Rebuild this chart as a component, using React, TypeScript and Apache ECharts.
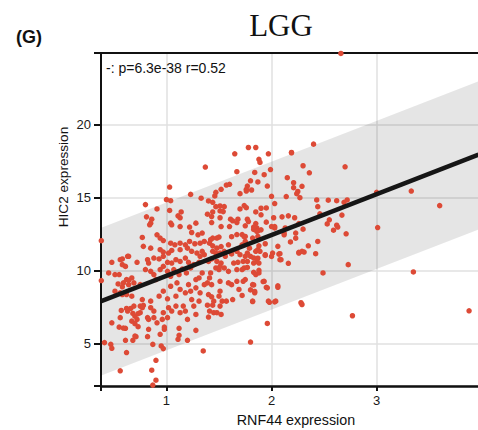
import React, { useEffect, useRef } from "react";
import * as echarts from "echarts";

// RNF44 expression (x), HIC2 expression (y)
const samples: number[][] = [
  [2.66, 24.85], [0.87, 2.14], [0.9, 2.48], [0.86, 3.16], [0.9, 3.84], [0.56, 3.12], [3.88, 7.23], [3.35, 9.89],
  [2.77, 6.89], [1.96, 6.36], [1.8, 5.09], [2.28, 7.78], [3.6, 14.43], [3.33, 15.43], [3.0, 15.34], [3.01, 12.93],
  [2.4, 18.64], [2.19, 18.05], [2.7, 17.09], [2.36, 16.68], [0.38, 12.03], [0.38, 9.3], [0.41, 5.05], [0.47, 4.93],
  [0.48, 4.66], [0.62, 4.37], [2.73, 10.39], [2.49, 9.82], [2.71, 12.5], [1.35, 4.48],
  [1.37, 17.07], [1.03, 15.7], [1.23, 15.2], [1.33, 14.94], [1.0, 14.84], [1.04, 14.77], [0.8, 14.5], [0.91, 14.2],
  [1.03, 14.1], [1.14, 14.0], [1.11, 13.73], [1.13, 13.6], [0.81, 13.66], [0.86, 13.5],
  [1.65, 17.98], [1.78, 18.41], [1.85, 18.41], [1.97, 17.98], [1.88, 17.6], [1.89, 17.39], [2.19, 18.07], [1.67, 16.75],
  [1.99, 16.9], [1.84, 16.7], [1.93, 16.55], [2.3, 17.16], [2.15, 16.34], [1.87, 16.05], [1.8, 16.13], [2.21, 16.0],
  [2.29, 15.75], [1.96, 15.77], [1.77, 15.77], [1.76, 15.55], [1.81, 15.5], [2.21, 15.66], [2.25, 15.4], [2.24, 15.25],
  [2.27, 14.97], [1.57, 15.84], [1.6, 15.89], [1.52, 15.55], [1.47, 15.34], [1.46, 15.09], [1.7, 15.25], [1.76, 15.43],
  [2.0, 15.07], [2.14, 15.05], [1.4, 14.75], [1.44, 14.66], [2.03, 14.57], [1.47, 14.36], [1.51, 14.41], [1.55, 14.36],
  [1.74, 14.43], [1.76, 14.29], [1.7, 14.2], [1.9, 14.25], [1.95, 14.27], [1.85, 14.0], [1.9, 13.8], [1.51, 14.07],
  [1.54, 14.02], [1.44, 14.0], [1.43, 13.68], [1.39, 13.84], [1.51, 13.6], [1.61, 13.5], [1.68, 13.5], [1.77, 13.5],
  [2.02, 13.6], [2.1, 13.66], [2.16, 13.73], [2.22, 13.6],
  [2.43, 14.82], [2.54, 14.8], [2.62, 14.77], [2.69, 14.66], [2.72, 14.82], [2.44, 14.36], [2.46, 13.87], [2.67, 13.78],
  [2.55, 13.46], [2.53, 13.18], [2.62, 13.09], [2.63, 12.96], [2.59, 12.75], [2.26, 13.2], [2.23, 12.2], [1.85, 13.2],
  [1.86, 12.9], [1.83, 12.8], [1.87, 12.7], [2.13, 12.9], [2.12, 12.55], [2.03, 12.9], [1.95, 13.3], [2.0, 13.0],
  [2.44, 11.98], [2.42, 11.14], [2.35, 11.68], [2.31, 11.25], [2.26, 11.18], [2.18, 11.94], [2.16, 10.48], [2.08, 10.73],
  [2.07, 11.11], [2.0, 10.95], [1.94, 11.02], [1.88, 10.0], [1.83, 9.86], [1.92, 9.23], [1.95, 8.84], [1.8, 8.66],
  [1.84, 8.55], [1.83, 9.0], [2.06, 8.94], [1.98, 7.81], [2.03, 7.84], [1.82, 7.86], [2.12, 12.43], [1.86, 12.66],
  [1.83, 10.85], [1.87, 10.83], [1.8, 10.96], [1.85, 11.3], [1.87, 11.41],
  [1.43, 13.27], [1.52, 13.0], [1.6, 13.0], [1.67, 13.27], [1.75, 13.05], [1.83, 12.96], [1.78, 13.34], [1.63, 13.39],
  [2.03, 13.0], [2.23, 12.55], [2.3, 12.82], [1.67, 12.45], [1.72, 12.45], [1.74, 12.3], [1.62, 12.3],
  [1.44, 12.21], [1.48, 12.21], [1.5, 12.28], [1.42, 12.1], [1.41, 11.86], [1.44, 11.68], [1.75, 12.32], [1.82, 12.21],
  [1.87, 12.32], [1.9, 12.77], [1.59, 11.75], [1.52, 11.63], [1.48, 11.52], [1.72, 11.75], [1.75, 11.98], [1.79, 11.52],
  [1.88, 11.68], [1.94, 11.82], [1.44, 11.3], [1.47, 11.18], [1.51, 11.18], [1.55, 11.3], [1.56, 10.96], [1.62, 11.12],
  [1.67, 11.3], [1.7, 11.07], [1.75, 10.96], [1.77, 11.18], [1.89, 11.3], [1.94, 11.07], [2.01, 11.18], [2.08, 11.14],
  [2.09, 10.73], [2.26, 11.23], [2.29, 11.3], [2.06, 11.64],
  [1.4, 10.61], [1.43, 10.78], [1.48, 10.61], [1.52, 10.5], [1.47, 10.16], [1.5, 10.05], [1.51, 10.27], [1.55, 10.16],
  [1.59, 9.93], [1.64, 10.5], [1.68, 10.55], [1.73, 10.61], [1.77, 10.61], [1.67, 10.05], [1.72, 10.05], [1.74, 10.16],
  [1.77, 10.2], [1.83, 10.5], [1.86, 10.61], [1.88, 10.5], [1.85, 9.71], [1.88, 9.82], [1.93, 9.25], [1.96, 8.8],
  [2.06, 8.84], [1.42, 9.82], [1.41, 9.48], [1.39, 9.14], [1.43, 9.02], [1.51, 9.25], [1.59, 9.14], [1.62, 9.02],
  [1.67, 9.25], [1.73, 9.25], [1.75, 9.37], [1.82, 9.02], [1.84, 8.46], [1.69, 8.69], [1.72, 8.28], [1.63, 8.0],
  [1.51, 8.57], [1.5, 8.23], [1.53, 7.89], [1.4, 8.34], [1.43, 8.19], [1.45, 7.89], [1.57, 7.89], [1.82, 7.89],
  [1.97, 7.89], [2.04, 7.89], [2.29, 7.66],
  [0.85, 13.23], [0.84, 13.12], [1.04, 13.23], [1.05, 13.12], [1.13, 13.0], [1.22, 12.96], [1.28, 13.23], [1.34, 12.55],
  [1.3, 12.43], [1.24, 12.59], [0.77, 12.25], [0.91, 12.43], [0.94, 12.21], [0.97, 12.04], [1.04, 11.86], [1.08, 11.75],
  [1.13, 11.86], [1.18, 11.75], [1.22, 11.98], [1.27, 11.82], [1.32, 11.86], [1.36, 11.98],
  [0.78, 11.64], [0.85, 11.52], [0.94, 11.41], [0.97, 11.25], [1.02, 11.18], [1.05, 11.36], [1.13, 11.41], [1.2, 11.52],
  [1.24, 11.3], [1.29, 11.18], [1.34, 11.3],
  [0.48, 10.55], [0.56, 10.73], [0.63, 10.96], [0.58, 10.39], [0.61, 10.27], [0.72, 10.55], [0.82, 10.73], [0.83, 10.5],
  [0.88, 10.84], [0.93, 10.78], [0.97, 10.96], [1.01, 10.55], [1.05, 10.5], [1.09, 10.73], [1.13, 10.61], [1.18, 10.84],
  [1.21, 10.55], [1.26, 10.39], [1.31, 10.55], [1.32, 10.96], [1.36, 11.07], [0.64, 10.96], [0.58, 10.78],
  [0.45, 9.82], [0.51, 9.71], [0.55, 9.71], [0.59, 9.14], [0.62, 9.37], [0.64, 9.02], [0.67, 9.48], [0.69, 9.14],
  [0.75, 9.02], [0.8, 10.05], [0.85, 9.93], [0.88, 9.71], [0.9, 9.37], [0.94, 10.05], [0.97, 10.27], [1.01, 9.93],
  [1.04, 9.59], [1.07, 10.05], [1.12, 9.71], [1.15, 10.09], [1.19, 9.82], [1.23, 10.16], [1.28, 9.37], [1.31, 9.48],
  [1.34, 9.82],
  [0.51, 8.57], [0.58, 8.34], [0.67, 8.23], [0.77, 8.0], [0.85, 7.89], [0.93, 8.23], [0.97, 8.57], [1.01, 8.05],
  [1.09, 8.23], [1.13, 8.69], [1.18, 8.46], [1.23, 8.57], [1.28, 8.8], [1.32, 8.46], [1.36, 9.02], [1.21, 9.02],
  [1.24, 8.0], [1.31, 7.89], [1.1, 9.14], [1.04, 8.91], [0.62, 8.34], [0.58, 8.87], [0.56, 8.46], [0.64, 9.32],
  [0.54, 9.07],
  [0.95, 4.82], [0.97, 4.64], [0.87, 4.93], [0.61, 5.21], [0.68, 5.21], [0.71, 5.46], [0.82, 5.46], [0.83, 5.96],
  [0.94, 5.62], [0.98, 5.96], [1.11, 5.28], [1.12, 5.55], [1.2, 5.21], [1.28, 5.89],
  [0.48, 6.41], [0.55, 6.11], [0.61, 6.03], [0.56, 6.76], [0.67, 6.52], [0.7, 6.86], [0.72, 6.64], [0.73, 7.03],
  [0.77, 7.44], [0.75, 7.55], [0.62, 7.39], [0.66, 7.39], [0.69, 7.55], [0.85, 7.44], [0.88, 7.21], [0.83, 6.64],
  [0.88, 6.76], [0.91, 6.41], [0.96, 6.64], [0.97, 7.1], [1.01, 6.76], [1.02, 7.44], [1.05, 7.21], [1.09, 7.55],
  [1.13, 7.1], [1.16, 7.55], [1.18, 7.21], [1.2, 6.64], [1.26, 7.55], [1.28, 6.98], [1.12, 6.03], [0.98, 6.11],
  [0.57, 7.25], [0.68, 7.05], [0.63, 7.21], [0.7, 6.35], [0.75, 7.1], [0.78, 7.6], [0.82, 6.76], [0.7, 5.5],
  [0.73, 6.14], [0.59, 6.05],
  [1.39, 7.61], [1.44, 7.61], [1.51, 7.55], [1.41, 7.21], [1.45, 7.1], [1.48, 7.1], [1.52, 6.98], [1.4, 6.8],
];

// Linear fit and its band, at the two ends of the x range
const fitX = [0.38, 3.97];
const fitY = [7.89, 17.92];
const bandLower = [2.8, 12.8];
const bandUpper = [12.92, 22.95];

const xTickLabels = [1, 2, 3];
const yTickLabels = [5, 10, 15, 20];
const xRange = [0.377, 3.965];
const yRange = [2.08, 24.88];

export default function App() {
  const ref = useRef<HTMLDivElement>(null);
  useEffect(() => {
    if (!ref.current) return;
    const chart = echarts.init(ref.current, null, { renderer: "svg" });
    const font = "'Liberation Sans', Arial, sans-serif";
    chart.setOption({
      animation: false,
      grid: { left: 101, right: 0, top: 53, bottom: 44 },
      title: [
        {
          text: "LGG",
          left: 276,
          top: 5,
          textAlign: "center",
          textStyle: { fontFamily: "'Liberation Serif', 'Times New Roman', serif", fontSize: 31, fontWeight: "normal", color: "#111" },
        },
        {
          text: "(G)",
          left: 11,
          top: 23,
          textStyle: { fontFamily: font, fontSize: 18, fontWeight: "bold", color: "#111" },
        },
      ],
      graphic: [
        {
          type: "text",
          left: 106,
          top: 61,
          style: { text: "-: p=6.3e-38 r=0.52", font: `14px ${font}`, fill: "#111" },
          z: 100,
        },
        {
          type: "text",
          x: 63,
          y: 177,
          rotation: Math.PI / 2,
          style: { text: "HIC2 expression", font: `13.6px ${font}`, fill: "#111", align: "center", verticalAlign: "middle" },
        },
        {
          type: "text",
          x: 296,
          y: 420,
          style: { text: "RNF44 expression", font: `14.3px ${font}`, fill: "#111", align: "center", verticalAlign: "middle" },
        },
      ],
      xAxis: [
        {
          type: "value",
          min: xRange[0],
          max: xRange[1],
          axisLine: { show: true, lineStyle: { color: "#111", width: 2.5 } },
          axisTick: { show: true, length: 5, lineStyle: { color: "#111", width: 2 }, customValues: [xRange[0], ...xTickLabels] },
          axisLabel: { customValues: xTickLabels, margin: 8, fontSize: 13, color: "#1a1a1a", fontFamily: font },
          splitLine: { show: true, lineStyle: { color: "#e0e0e0", width: 1.5 } },
        },
        {
          type: "value",
          position: "top",
          min: xRange[0],
          max: xRange[1],
          axisLine: { show: true, onZero: false, lineStyle: { color: "#111", width: 2 } },
          axisTick: { show: false },
          axisLabel: { show: false },
          splitLine: { show: false },
        },
      ],
      yAxis: {
        type: "value",
        min: yRange[0],
        max: yRange[1],
        axisLine: { show: true, lineStyle: { color: "#111", width: 2 } },
        axisTick: { show: true, length: 7, lineStyle: { color: "#111", width: 2 }, customValues: [yRange[0], ...yTickLabels, yRange[1]] },
        axisLabel: { customValues: yTickLabels, margin: 10, fontSize: 13, color: "#1a1a1a", fontFamily: font },
        splitLine: { show: true, lineStyle: { color: "#e0e0e0", width: 1.5 } },
      },
      series: [
        {
          type: "custom",
          silent: true,
          z: 1,
          data: [0],
          renderItem: (params: any, api: any) => {
            const pts: number[][] = [];
            for (let i = 0; i < fitX.length; i++) pts.push(api.coord([fitX[i], bandUpper[i]]));
            for (let i = fitX.length - 1; i >= 0; i--) pts.push(api.coord([fitX[i], bandLower[i]]));
            return { type: "polygon", shape: { points: pts }, style: { fill: "rgba(0,0,0,0.1)" } };
          },
        },
        {
          type: "scatter",
          z: 2,
          symbolSize: 5.5,
          clip: false,
          itemStyle: { color: "#dd4a36", opacity: 1 },
          data: samples,
        },
        {
          type: "line",
          z: 3,
          symbol: "none",
          lineStyle: { color: "#161616", width: 4.5 },
          data: fitX.map((x, i) => [x, fitY[i]]),
        },
      ],
    });
    return () => chart.dispose();
  }, []);
  return <div ref={ref} style={{ position: "absolute", left: 0, top: 0, width: 478, height: 430 }} />;
}
